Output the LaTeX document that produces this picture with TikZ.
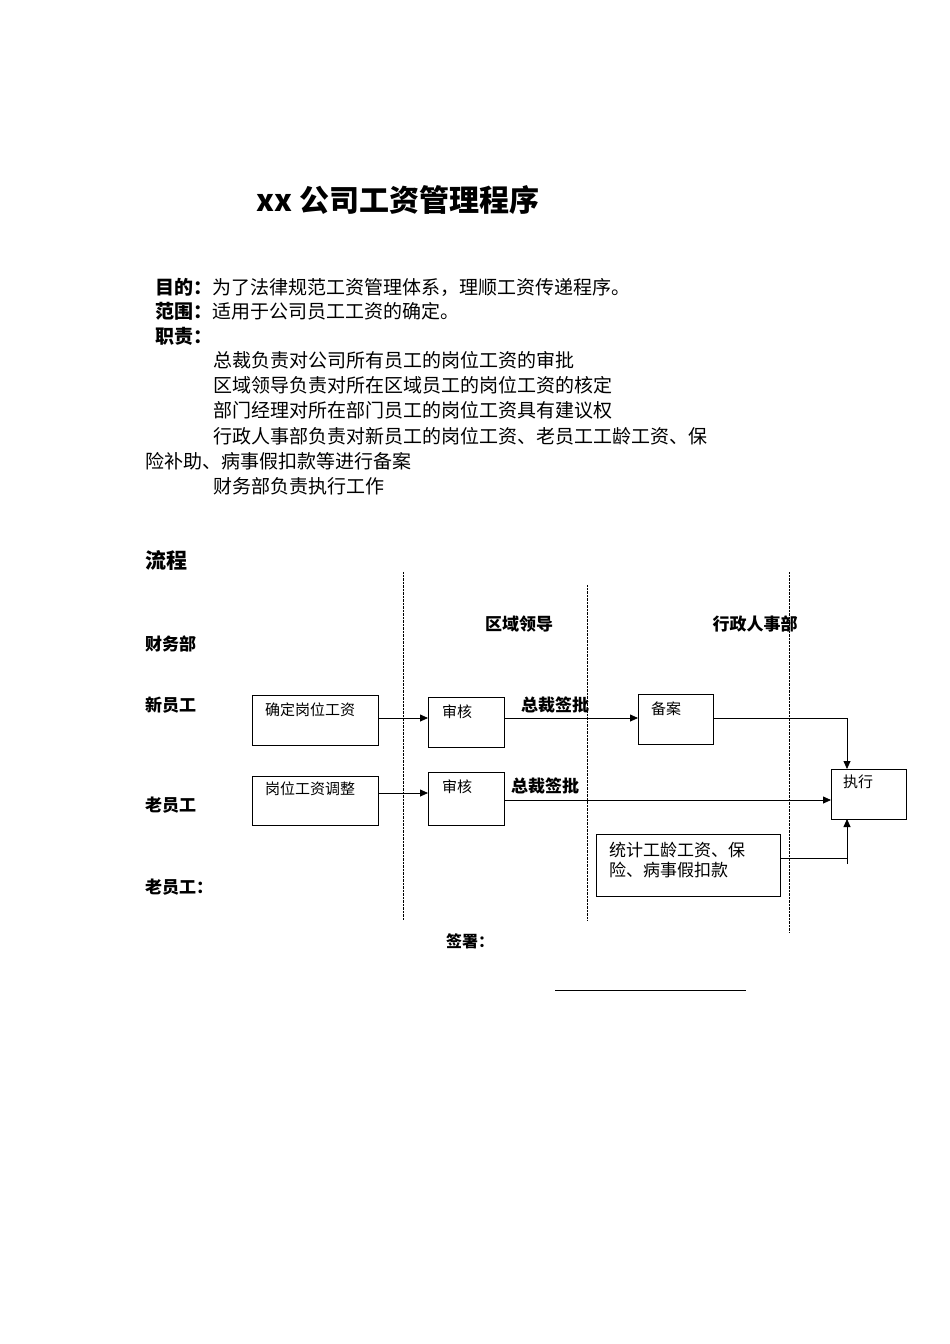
\documentclass[tikz,border=0pt]{standalone}
\usepackage{fontspec}
\setmainfont{Noto Sans CJK SC}
\usetikzlibrary{arrows.meta}
\begin{document}
\begin{tikzpicture}[x=1pt,y=-1pt,
  box/.style={draw,thick,inner sep=0pt},
  btxt/.style={anchor=north west,font=\fontsize{15}{18}\selectfont,inner sep=0pt},
  body/.style={anchor=west,font=\fontsize{19}{22}\selectfont,inner sep=0pt},
  lbl/.style={anchor=west,font=\fontsize{17}{20}\selectfont\bfseries,inner sep=0pt},
  dl/.style={densely dotted,thin},
  arr/.style={-{Triangle[length=8pt,width=7pt]},thick}]
\useasboundingbox (0,0) rectangle (950,1344);
\node[font=\fontsize{30}{34}\selectfont\bfseries] (title) at (398,200) {xx 公司工资管理程序};
\node[body] (l1) at (155,287) {\textbf{目的：}为了法律规范工资管理体系，理顺工资传递程序。};
\node[body] (l2) at (155,311) {\textbf{范围：}适用于公司员工工资的确定。};
\node[body] (l3) at (155,336) {\textbf{职责：}};
\node[body] (l4) at (213,360) {总裁负责对公司所有员工的岗位工资的审批};
\node[body] (l5) at (213,385) {区域领导负责对所在区域员工的岗位工资的核定};
\node[body] (l6) at (213,410) {部门经理对所在部门员工的岗位工资具有建议权};
\node[body] (l7) at (213,436) {行政人事部负责对新员工的岗位工资、老员工工龄工资、保};
\node[body] (l8) at (145,461) {险补助、病事假扣款等进行备案};
\node[body] (l9) at (213,486) {财务部负责执行工作};
\node[anchor=west,font=\fontsize{21}{24}\selectfont\bfseries,inner sep=0pt] (flow) at (145,560) {流程};
\draw[dl] (403,572) -- (403,920);
\draw[dl] (587,585) -- (587,920);
\draw[dl] (789,572) -- (789,932);
\node[font=\fontsize{17}{20}\selectfont\bfseries] (h1) at (519,624) {区域领导};
\node[font=\fontsize{17}{20}\selectfont\bfseries] (h2) at (755,624) {行政人事部};
\node[lbl] (r0) at (145,644) {财务部};
\node[lbl] (r1) at (145,705) {新员工};
\node[lbl] (r2) at (145,805) {老员工};
\node[lbl] (r3) at (145,887) {老员工：};
\draw[box] (252,695) rectangle (378,745); \node[btxt] (t1) at (265,703) {确定岗位工资};
\draw[box] (428,697) rectangle (504,747); \node[btxt] (t2) at (442,705) {审核};
\draw[box] (638,694) rectangle (713,744); \node[btxt] (t3) at (651,702) {备案};
\draw[box] (252,776) rectangle (378,825); \node[btxt] (t4) at (265,782) {岗位工资调整};
\draw[box] (428,772) rectangle (504,825); \node[btxt] (t5) at (442,780) {审核};
\draw[box] (831,769) rectangle (906,819); \node[btxt] (t6) at (843,775) {执行};
\draw[box] (596,834) rectangle (780,896);
\node[anchor=north west,font=\fontsize{17}{20}\selectfont,inner sep=0pt,align=left] (t7) at (609,842) {统计工龄工资、保\\险、病事假扣款};
\coordinate (a) at (847,769); \coordinate (b) at (847,819);
\draw[arr] (378,718) -- (428,718);
\draw[arr] (504,718) -- (638,718);
\draw[arr] (713,718) -- (847,718) -- (a);
\draw[arr] (378,793) -- (428,793);
\draw[arr] (504,800) -- (831,800);
\draw[thick] (780,858) -- (847,858);
\draw[thick] (847,864) -- (847,840);
\draw[arr] (847,840) -- (b);
\node[font=\fontsize{17}{20}\selectfont\bfseries] (s1) at (555,705) {总裁签批};
\node[font=\fontsize{17}{20}\selectfont\bfseries] (s2) at (545,786) {总裁签批};
\node[font=\fontsize{16}{19}\selectfont\bfseries] (sig) at (470,941) {签署：};
\draw (555,990) -- (746,990);
\end{tikzpicture}
\end{document}
